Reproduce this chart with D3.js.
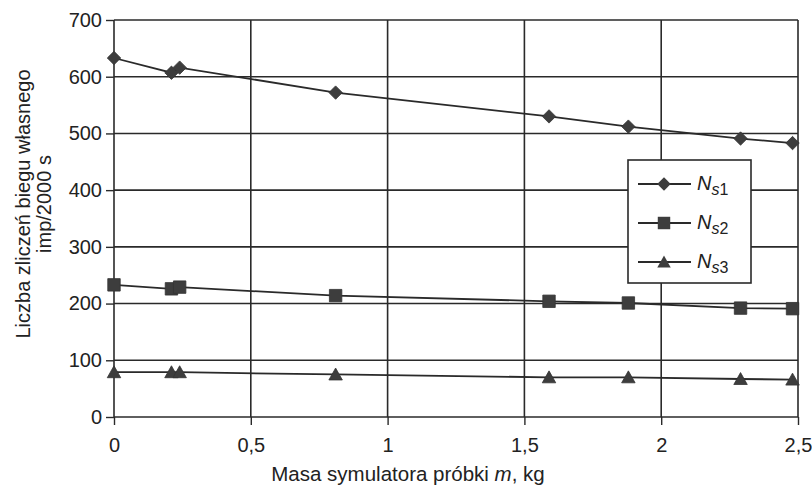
<!DOCTYPE html>
<html><head><meta charset="utf-8">
<script src="https://cdn.jsdelivr.net/npm/d3@7"></script>
<style>body{margin:0;background:#fff}svg{display:block}text{font-family:"Liberation Sans",Arial,sans-serif;fill:#222}</style>
</head><body><svg id="c" width="812" height="487"></svg>
<script>
// Masa symulatora (kg)
const masses = [0, 0.21, 0.24, 0.81, 1.59, 1.88, 2.29, 2.48];
const ns1 = [633, 607, 616, 572, 530, 512, 491, 483];
const ns2 = [233, 226, 229, 214, 204, 201, 192, 191];
const ns3 = [79, 79, 79, 75, 70, 70, 67, 66];
const xTicks = [0, 0.5, 1, 1.5, 2, 2.5];
const yTicks = [0, 100, 200, 300, 400, 500, 600, 700];
const seriesNames = ["1", "2", "3"];

const svg = d3.select("#c");
const x = d3.scaleLinear().domain([0, 2.5]).range([114, 798]);
const y = d3.scaleLinear().domain([0, 700]).range([417, 20]);
const ink = "#2a2a2a";

// grid
svg.append("g").selectAll("line").data(yTicks).join("line")
  .attr("x1", x(0)).attr("x2", x(2.5)).attr("y1", d => y(d)).attr("y2", d => y(d))
  .attr("stroke", ink).attr("stroke-width", 1.6);
svg.append("g").selectAll("line").data(xTicks).join("line")
  .attr("y1", y(0)).attr("y2", y(700)).attr("x1", d => x(d)).attr("x2", d => x(d))
  .attr("stroke", ink).attr("stroke-width", 1.6);

// axes
const fmt = d => String(d).replace(".", ",");
const ax = svg.append("g").attr("transform", `translate(0,${y(0)})`)
  .call(d3.axisBottom(x).tickValues(xTicks).tickFormat(fmt).tickSize(8).tickPadding(13));
const ay = svg.append("g").attr("transform", `translate(${x(0)},0)`)
  .call(d3.axisLeft(y).tickValues(yTicks).tickSize(8).tickPadding(4));
[ax, ay].forEach(a => {
  a.select(".domain").remove();
  a.selectAll(".tick line").attr("stroke", ink).attr("stroke-width", 1.4);
  a.selectAll(".tick text").attr("font-size", 20).attr("fill", "#222")
    .attr("font-family", "'Liberation Sans',Arial,sans-serif");
});

// marker shapes: rotated square, square, triangle
const diamond = { draw(ctx, size) { const r = Math.sqrt(size / 2);
  ctx.moveTo(0, -r); ctx.lineTo(r, 0); ctx.lineTo(0, r); ctx.lineTo(-r, 0); ctx.closePath(); } };
const square = { draw(ctx, size) { const h = Math.sqrt(size) / 2;
  ctx.rect(-h, -h, 2 * h, 2 * h); } };
const triangle = { draw(ctx, size) { const h = Math.sqrt(size) / 2;
  ctx.moveTo(0, -h * 1.05); ctx.lineTo(h * 1.1, h * 0.9); ctx.lineTo(-h * 1.1, h * 0.9); ctx.closePath(); } };

const data = [ns1, ns2, ns3];
const symbols = [diamond, square, triangle];
const sizes = [90, 155, 150];
const markFill = "#3d3d3d";
const line = d3.line().x((d, i) => x(masses[i])).y(d => y(d));
data.forEach((vals, k) => {
  svg.append("path").datum(vals).attr("d", line)
    .attr("fill", "none").attr("stroke", ink).attr("stroke-width", 1.8);
  svg.append("g").selectAll("path").data(vals).join("path")
    .attr("transform", (d, i) => `translate(${x(masses[i])},${y(d)})`)
    .attr("d", d3.symbol(symbols[k], sizes[k]))
    .attr("fill", markFill).attr("stroke", "#333").attr("stroke-width", 0.8);
});

// legend
const lg = svg.append("g");
lg.append("rect").attr("x", 628).attr("y", 160).attr("width", 123).attr("height", 123)
  .attr("fill", "#fff").attr("stroke", ink).attr("stroke-width", 1.6);
seriesNames.forEach((s, k) => {
  const cy = 184 + k * 39;
  lg.append("line").attr("x1", 638).attr("x2", 691).attr("y1", cy).attr("y2", cy)
    .attr("stroke", ink).attr("stroke-width", 1.8);
  lg.append("path").attr("transform", `translate(664,${cy})`)
    .attr("d", d3.symbol(symbols[k], sizes[k])).attr("fill", markFill);
  const t = lg.append("text").attr("x", 697).attr("y", cy + 6).attr("font-size", 20);
  t.append("tspan").attr("font-style", "italic").text("N");
  t.append("tspan").attr("font-style", "italic").attr("font-size", 16).attr("dy", 5).text("s");
  t.append("tspan").attr("font-size", 16).text(s);
});

// titles
const yt = svg.append("text").attr("transform", "translate(30,204) rotate(-90)")
  .attr("text-anchor", "middle").attr("font-size", 20);
yt.append("tspan").attr("x", 0).attr("dy", 0).text("Liczba zliczeń biegu własnego");
yt.append("tspan").attr("x", 0).attr("dy", 21).text("imp/2000 s");

const xt = svg.append("text").attr("x", 408).attr("y", 481)
  .attr("text-anchor", "middle").attr("font-size", 20.5);
xt.append("tspan").text("Masa symulatora próbki ");
xt.append("tspan").attr("font-style", "italic").text("m");
xt.append("tspan").text(", kg");
</script></body></html>
